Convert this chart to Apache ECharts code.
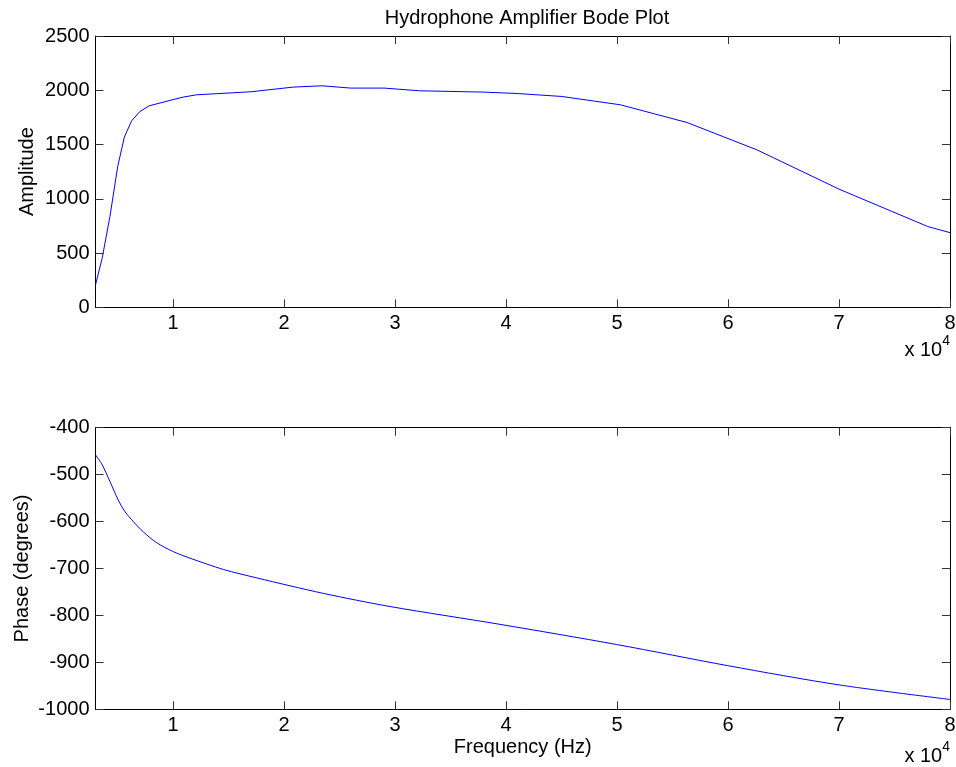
<!DOCTYPE html>
<html>
<head>
<meta charset="utf-8">
<script src="https://cdn.jsdelivr.net/npm/echarts@6/dist/echarts.min.js"></script>
<style>
  html, body { margin: 0; padding: 0; background: #fff; }
  #chart { width: 956px; height: 767px; }
</style>
</head>
<body>
<div id="chart"></div>
<script>
// ---- data ----
const chartTitle = 'Hydrophone Amplifier Bode Plot';
const freqAmp = [3000, 3600, 4300, 5000, 5600, 6250, 7000, 7850, 9700, 10900, 12100, 17000, 20800, 23400, 26000, 29000, 32200, 38000, 41000, 45000, 50300, 56300, 62600, 70000, 78000, 80000];
const amplitude = [206, 452, 836, 1297, 1568, 1718, 1804, 1857, 1906, 1937, 1958, 1986, 2029, 2041, 2020, 2020, 1995, 1983, 1970, 1943, 1866, 1703, 1451, 1089, 744, 688];
const freqPhase = [3000, 3560, 4310, 5050, 5660, 6410, 7310, 8510, 10010, 11520, 14520, 17530, 23530, 29540, 39450, 49970, 59970, 70000, 80000];
const phase = [-458, -477, -515, -554, -579, -600, -622, -645, -664, -678, -702, -720, -753, -781, -819, -862, -907, -948, -979];
const xTicks = [10000, 20000, 30000, 40000, 50000, 60000, 70000, 80000];
const ampTicks = { min: 0, max: 2500, interval: 500 };
const phaseTicks = { min: -1000, max: -400, interval: 100 };

const FONT = 'Liberation Sans, Arial, Helvetica, sans-serif';
const FS = 20;

function xAx(gridIndex, pos, showLabel) {
  return {
    type: 'value', gridIndex: gridIndex, position: pos,
    min: 3000, max: 80000,
    axisLine: { show: true, onZero: false, lineStyle: { color: '#000', width: 1 } },
    axisTick: { show: true, inside: true, length: 8, customValues: xTicks, lineStyle: { color: '#333' } },
    axisLabel: { show: showLabel, customValues: xTicks, formatter: v => String(v / 10000), color: '#000', fontSize: FS, fontFamily: FONT, margin: 6 },
    splitLine: { show: false }
  };
}
function yAx(gridIndex, pos, showLabel, t) {
  return {
    type: 'value', gridIndex: gridIndex, position: pos,
    min: t.min, max: t.max, interval: t.interval,
    axisLine: { show: true, onZero: false, lineStyle: { color: '#000', width: 1 } },
    axisTick: { show: true, inside: true, length: 8, lineStyle: { color: '#333' } },
    axisLabel: { show: showLabel, formatter: v => String(v), color: '#000', fontSize: FS, fontFamily: FONT, margin: 6 },
    splitLine: { show: false }
  };
}

const chart = echarts.init(document.getElementById('chart'), null, { renderer: 'canvas' });
chart.setOption({
  animation: false,
  backgroundColor: '#fff',
  title: {
    text: chartTitle, left: 522, top: 3, textAlign: 'center',
    textStyle: { fontSize: FS, fontWeight: 'normal', color: '#000', fontFamily: FONT }
  },
  grid: [
    { left: 95.5, width: 854.5, top: 36, height: 271.3, containLabel: false, outerBoundsMode: 'none' },
    { left: 95.5, width: 854.5, top: 427.7, height: 281.6, containLabel: false, outerBoundsMode: 'none' }
  ],
  xAxis: [
    xAx(0, 'bottom', true), xAx(0, 'top', false),
    Object.assign(xAx(1, 'bottom', true), {
      name: 'Frequency (Hz)', nameLocation: 'middle', nameGap: 28, nameMoveOverlap: false,
      nameTextStyle: { fontSize: FS, color: '#000', fontFamily: FONT }
    }),
    xAx(1, 'top', false)
  ],
  yAxis: [
    Object.assign(yAx(0, 'left', true, ampTicks), {
      name: 'Amplitude', nameLocation: 'middle', nameGap: 58, nameRotate: 90, nameMoveOverlap: false,
      nameTextStyle: { fontSize: FS, color: '#000', fontFamily: FONT }
    }),
    yAx(0, 'right', false, ampTicks),
    Object.assign(yAx(1, 'left', true, phaseTicks), {
      name: 'Phase (degrees)', nameLocation: 'middle', nameGap: 63, nameRotate: 90, nameMoveOverlap: false,
      nameTextStyle: { fontSize: FS, color: '#000', fontFamily: FONT }
    }),
    yAx(1, 'right', false, phaseTicks)
  ],
  series: [
    {
      type: 'line', xAxisIndex: 0, yAxisIndex: 0,
      data: freqAmp.map((f, i) => [f, amplitude[i]]),
      showSymbol: false, lineStyle: { color: '#0000ff', width: 1 }, silent: true
    },
    {
      type: 'line', xAxisIndex: 2, yAxisIndex: 2,
      data: freqPhase.map((f, i) => [f, phase[i]]),
      showSymbol: false, smooth: 0.3, lineStyle: { color: '#0000ff', width: 1 }, silent: true
    }
  ],
  graphic: [
    {
      type: 'text', right: 6, top: 334,
      style: {
        text: '{a|x 10}{b|4}',
        rich: {
          a: { fontSize: FS, fontFamily: FONT, fill: '#000', padding: [6, 0, 0, 0] },
          b: { fontSize: 14, fontFamily: FONT, fill: '#000', verticalAlign: 'top' }
        }
      }
    },
    {
      type: 'text', right: 6, top: 740,
      style: {
        text: '{a|x 10}{b|4}',
        rich: {
          a: { fontSize: FS, fontFamily: FONT, fill: '#000', padding: [6, 0, 0, 0] },
          b: { fontSize: 14, fontFamily: FONT, fill: '#000', verticalAlign: 'top' }
        }
      }
    }
  ]
});
</script>
</body>
</html>
